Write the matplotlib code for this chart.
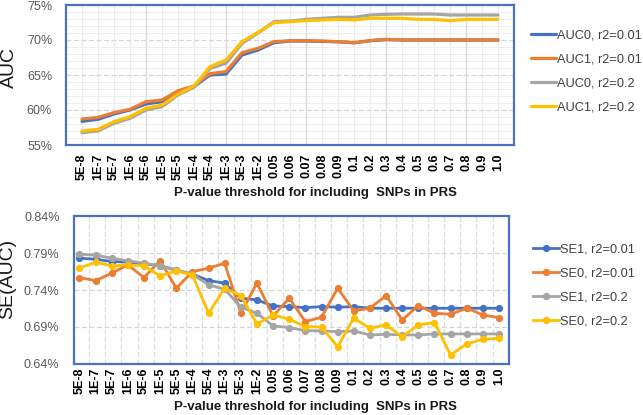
import numpy as np
import matplotlib
matplotlib.use('Agg')
import matplotlib.pyplot as plt

plt.rcParams['font.family'] = ['Liberation Sans', 'DejaVu Sans']

thresholds = ['5E-8', '1E-7', '5E-7', '1E-6', '5E-6', '1E-5', '5E-5', '1E-4', '5E-4', '1E-3',
              '5E-3', '1E-2', '0.05', '0.06', '0.07', '0.08', '0.09', '0.1', '0.2', '0.3',
              '0.4', '0.5', '0.6', '0.7', '0.8', '0.9', '1.0']

# AUC (%)
auc0_r001 = [58.38, 58.67, 59.43, 60.0, 60.86, 61.19, 62.62, 63.33, 65.0, 65.14, 67.86, 68.57, 69.62, 69.85,
             69.85, 69.8, 69.75, 69.6, 69.9, 70.05, 70.0, 70.0, 70.0, 70.0, 70.0, 70.0, 70.0]
auc1_r001 = [58.71, 58.95, 59.62, 60.1, 61.19, 61.43, 62.76, 63.43, 65.2, 65.48, 68.19, 68.81, 69.76, 69.9,
             69.9, 69.85, 69.76, 69.62, 69.9, 70.1, 70.0, 70.0, 70.0, 70.0, 70.0, 70.0, 70.0]
auc0_r02 = [56.76, 57.0, 58.1, 58.81, 60.0, 60.48, 62.14, 63.24, 65.95, 66.67, 69.52, 71.0, 72.62, 72.71,
            72.95, 73.1, 73.24, 73.24, 73.57, 73.67, 73.71, 73.71, 73.71, 73.57, 73.57, 73.57, 73.57]
auc1_r02 = [57.0, 57.24, 58.33, 59.05, 60.24, 60.71, 62.29, 63.43, 66.19, 67.14, 69.76, 71.1, 72.48, 72.62,
            72.76, 72.86, 72.95, 72.86, 73.1, 73.1, 73.1, 72.95, 72.95, 72.76, 72.95, 72.95, 72.95]

# SE(AUC) (%)
se1_r001 = [0.7833, 0.7819, 0.7787, 0.778, 0.7757, 0.773, 0.767, 0.7615, 0.7528, 0.7493, 0.7289, 0.7265,
            0.7183, 0.7174, 0.716, 0.7174, 0.7166, 0.7174, 0.7152, 0.7152, 0.7152, 0.7152, 0.7152, 0.7152,
            0.7152, 0.7152, 0.7152]
se0_r001 = [0.7569, 0.7528, 0.7629, 0.7742, 0.7569, 0.78, 0.7424, 0.765, 0.7697, 0.7764, 0.7084, 0.7493,
            0.7047, 0.7289, 0.697, 0.7029, 0.7424, 0.7115, 0.7152, 0.7324, 0.6993, 0.7188, 0.7084, 0.707,
            0.7152, 0.7061, 0.7024]
se1_r02 = [0.7888, 0.7874, 0.7833, 0.7796, 0.7764, 0.7728, 0.7674, 0.7615, 0.747, 0.7411, 0.7166, 0.7084,
           0.6911, 0.6889, 0.6847, 0.6843, 0.6833, 0.6843, 0.6788, 0.6797, 0.6788, 0.6788, 0.6802, 0.6802,
           0.6802, 0.6802, 0.6802]
se0_r02 = [0.7697, 0.7779, 0.7728, 0.7742, 0.7728, 0.7592, 0.766, 0.7606, 0.7084, 0.7424, 0.7324, 0.6938,
           0.7061, 0.7002, 0.6902, 0.6895, 0.6629, 0.7016, 0.6879, 0.6925, 0.6765, 0.6925, 0.6956, 0.6516,
           0.6666, 0.6729, 0.6743]

blue, orange, gray, yellow = '#4472C4', '#ED7D31', '#A5A5A5', '#FFC000'
frame = '#4A72C0'
x = np.arange(len(thresholds))

fig = plt.figure(figsize=(6.43, 4.15), dpi=100)

# ---------------- top: AUC
ax1 = fig.add_axes([66/643, 1-145/415, 448/643, 140/415])
for vals, c, lab in [(auc0_r001, blue, 'AUC0, r2=0.01'), (auc1_r001, orange, 'AUC1, r2=0.01'),
                     (auc0_r02, gray, 'AUC0, r2=0.2'), (auc1_r02, yellow, 'AUC1, r2=0.2')]:
    ax1.plot(x, vals, color=c, lw=2.3, label=lab, solid_joinstyle='round', solid_capstyle='round', zorder=3)
ax1.set_xlim(-1, 27)
ax1.set_ylim(55, 75)
ax1.set_yticks([55, 60, 65, 70, 75])
ax1.set_yticklabels(['%d%%' % v for v in [55, 60, 65, 70, 75]])
ax1.set_xticks(x)
ax1.set_xticklabels(thresholds, rotation=90, fontweight='bold', fontsize=9)
ax1.grid(False)
# light minor grid, darker dashed major grid
for v in np.arange(56, 75, 1):
    if v % 5:
        ax1.axhline(v, color='#EEEEEE', lw=0.7, zorder=0)
for v in [60, 65, 70]:
    ax1.axhline(v, color='#D6D6D6', lw=0.9, ls=(0, (4, 2)), zorder=1)
for v in x:
    ax1.axvline(v, color='#EBEBEB', lw=0.8, zorder=0)
for v in [4, 9, 14, 19, 24]:
    ax1.axvline(v, color='#DADADA', lw=1.0, zorder=1)
ax1.tick_params(axis='both', which='both', length=0)
ax1.tick_params(axis='y', labelsize=9, labelcolor='#595959', pad=10)
ax1.tick_params(axis='x', pad=6)
for s in ax1.spines.values():
    s.set_color(frame)
    s.set_linewidth(1.6)
ax1.legend(loc='upper left', bbox_to_anchor=(531/643, 1-29/415), bbox_transform=fig.transFigure,
           frameon=False, fontsize=9.2, handlelength=1.95, handletextpad=0.1, labelspacing=0.95,
           borderaxespad=0, borderpad=0, labelcolor='#404040')

# ---------------- bottom: SE(AUC)
ax2 = fig.add_axes([73.5/643, 1-363.5/415, 435.5/643, 147/415])
for vals, c, lab in [(se1_r001, blue, 'SE1, r2=0.01'), (se0_r001, orange, 'SE0, r2=0.01'),
                     (se1_r02, gray, 'SE1, r2=0.2'), (se0_r02, yellow, 'SE0, r2=0.2')]:
    ax2.plot(x, vals, color=c, lw=2.0, marker='o', ms=4.2, label=lab, solid_joinstyle='round', zorder=3)
ax2.set_xlim(-0.37, 26.62)
ax2.set_ylim(0.64, 0.84)
yt = [0.64, 0.69, 0.74, 0.79, 0.84]
ax2.set_yticks(yt)
ax2.set_yticklabels(['%.2f%%' % v for v in yt])
ax2.set_xticks(x)
ax2.set_xticklabels(thresholds, rotation=90, fontweight='bold', fontsize=9)
for v in [0.69, 0.74, 0.79]:
    ax2.axhline(v, color='#D6D6D6', lw=0.9, ls=(0, (4, 2)), zorder=1)
for v in x[:-1] + 0.6:
    ax2.axvline(v, color='#DDDDDD', lw=0.9, ls=(0, (4, 2)), zorder=1)
ax2.tick_params(axis='both', which='both', length=0)
ax2.tick_params(axis='y', labelsize=9, labelcolor='#595959', pad=10)
ax2.tick_params(axis='x', pad=3)
for s in ax2.spines.values():
    s.set_color(frame)
    s.set_linewidth(1.6)
ax2.legend(loc='upper left', bbox_to_anchor=(533/643, 1-243/415), bbox_transform=fig.transFigure,
           frameon=False, fontsize=9.2, handlelength=2.0, handletextpad=0.1, labelspacing=0.95,
           borderaxespad=0, borderpad=0, labelcolor='#404040')

# axis titles
fig.text(9/643, 1-68/415, 'AUC', rotation=90, ha='center', va='center', fontsize=14, color='#1a1a1a')
fig.text(8/643, 1-279/415, 'SE(AUC)', rotation=90, ha='center', va='center', fontsize=14, color='#1a1a1a')
fig.text(315/643, 1-193/415, 'P-value threshold for including  SNPs in PRS', ha='center', va='center',
         fontsize=9.5, fontweight='bold', color='#1a1a1a')
fig.text(315/643, 1-407/415, 'P-value threshold for including  SNPs in PRS', ha='center', va='center',
         fontsize=9.5, fontweight='bold', color='#1a1a1a')

fig.savefig('out.png', dpi=100)
